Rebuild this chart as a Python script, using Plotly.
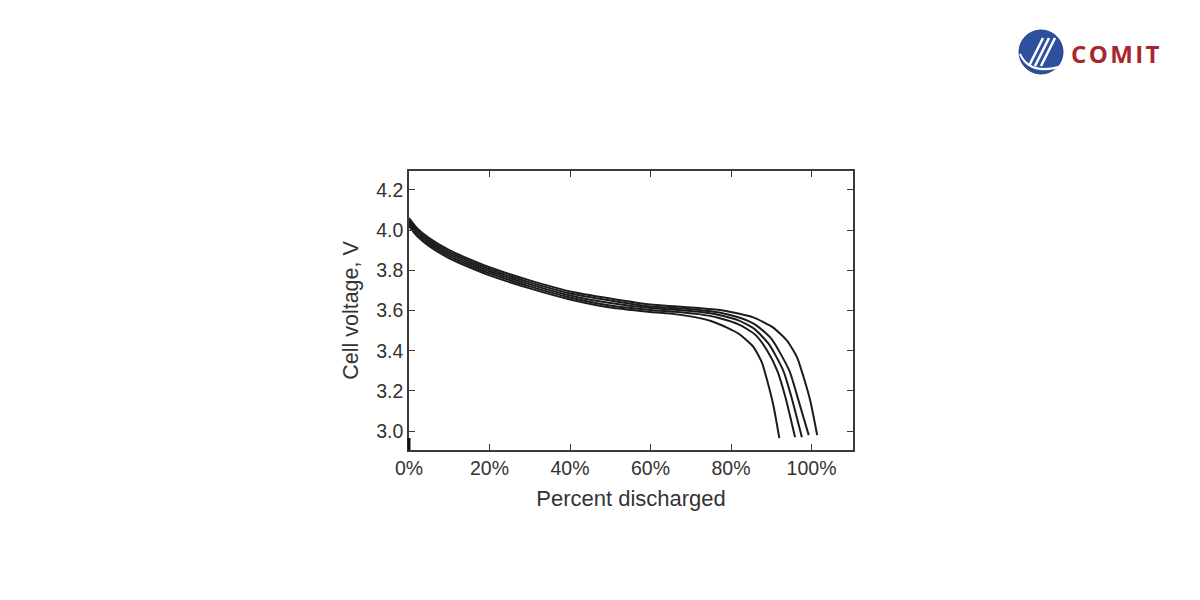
import plotly.graph_objects as go

# Percent discharged (x) and cell voltage (V) for the five discharge curves
c1_x = [0, 2, 5, 10, 15, 20, 30, 40, 50, 60, 66, 71, 75, 79, 82, 85.5, 87.7, 89, 90.5, 92]
c1_v = [4.02, 3.97, 3.92, 3.86, 3.815, 3.775, 3.71, 3.655, 3.615, 3.593, 3.582, 3.567, 3.548, 3.515, 3.483, 3.42, 3.34, 3.25, 3.13, 2.965]

c2_x = [0, 2, 5, 10, 15, 20, 30, 40, 50, 60, 66, 72, 77, 82, 86, 89, 91.5, 93.5, 95.9]
c2_v = [4.03, 3.98, 3.93, 3.87, 3.825, 3.785, 3.72, 3.665, 3.625, 3.603, 3.594, 3.582, 3.563, 3.53, 3.48, 3.40, 3.30, 3.17, 2.97]

c3_x = [0, 2, 5, 10, 15, 20, 30, 40, 50, 60, 66, 72, 77, 82, 86, 89.5, 93, 95, 97.6]
c3_v = [4.04, 3.99, 3.94, 3.88, 3.835, 3.795, 3.73, 3.675, 3.637, 3.612, 3.604, 3.594, 3.578, 3.55, 3.505, 3.43, 3.30, 3.17, 2.97]

c4_x = [0, 2, 5, 10, 15, 20, 30, 40, 50, 60, 66, 72, 77, 82, 86, 90, 94.5, 96.8, 99.3]
c4_v = [4.05, 4.0, 3.95, 3.89, 3.845, 3.805, 3.74, 3.685, 3.65, 3.62, 3.612, 3.603, 3.59, 3.565, 3.53, 3.46, 3.30, 3.15, 2.98]

c5_x = [0, 2, 5, 10, 15, 20, 30, 40, 50, 60, 66, 72, 78, 85.5, 90.4, 93.9, 96.4, 98, 99.7, 101.4]
c5_v = [4.06, 4.01, 3.96, 3.90, 3.855, 3.815, 3.75, 3.695, 3.66, 3.63, 3.621, 3.612, 3.60, 3.566, 3.516, 3.45, 3.367, 3.27, 3.15, 2.98]

curves = [(c1_x, c1_v), (c2_x, c2_v), (c3_x, c3_v), (c4_x, c4_v), (c5_x, c5_v)]

x_ticks = [0, 20, 40, 60, 80, 100]
x_labels = ["0%", "20%", "40%", "60%", "80%", "100%"]
y_ticks = [3.0, 3.2, 3.4, 3.6, 3.8, 4.0, 4.2]
y_labels = ["3.0", "3.2", "3.4", "3.6", "3.8", "4.0", "4.2"]

fig = go.Figure()
for xs, vs in curves:
    fig.add_trace(go.Scatter(x=xs, y=vs, mode="lines",
                             line=dict(color="#1c1c1c", width=2, shape="spline", smoothing=0.6),
                             showlegend=False, hoverinfo="skip"))

axis_common = dict(showgrid=False, zeroline=False, showline=True, linecolor="#3a3a3a",
                   linewidth=1.5, mirror="allticks", ticks="inside", ticklen=6,
                   tickcolor="#3a3a3a", tickwidth=1.3,
                   tickfont=dict(family="Liberation Sans, Arial", size=19.5, color="#333333"))

fig.update_xaxes(range=[0, 110.3], tickvals=x_ticks, ticktext=x_labels,
                 title=dict(text="Percent discharged", standoff=12,
                            font=dict(family="Liberation Sans, Arial", size=22, color="#333333")),
                 **axis_common)
fig.update_yaxes(range=[2.906, 4.294], tickvals=y_ticks, ticktext=y_labels,
                 title=dict(text="Cell voltage, V", standoff=12,
                            font=dict(family="Liberation Sans, Arial", size=21.5, color="#333333")),
                 **axis_common)

# Logo (COMIT) in top-right corner, positioned in paper coordinates
def px_x(p):
    return (p - 409) / 444.0

def px_y(p):
    return (450 - p) / 279.0

shapes = [
    dict(type="circle", xref="paper", yref="paper",
         x0=px_x(1019), x1=px_x(1063), y0=px_y(74), y1=px_y(30),
         fillcolor="#2d4f9e", line=dict(color="#24408a", width=1)),
    dict(type="line", xref="paper", yref="paper", x0=px_x(1029), y0=px_y(66), x1=px_x(1043), y1=px_y(38),
         line=dict(color="white", width=2.5)),
    dict(type="line", xref="paper", yref="paper", x0=px_x(1035), y0=px_y(66), x1=px_x(1049), y1=px_y(38),
         line=dict(color="white", width=2.5)),
    dict(type="line", xref="paper", yref="paper", x0=px_x(1041), y0=px_y(66), x1=px_x(1055), y1=px_y(38),
         line=dict(color="white", width=2.5)),
    dict(type="path", xref="paper", yref="paper",
         path="M {0},{1} Q {2},{3} {4},{5}".format(px_x(1020), px_y(54), px_x(1030), px_y(76), px_x(1062), px_y(66)),
         line=dict(color="white", width=2)),
    # small thick mark at the bottom-left corner of the axis
    dict(type="line", xref="paper", yref="paper", x0=px_x(409), x1=px_x(409), y0=px_y(450), y1=px_y(438),
         line=dict(color="#111111", width=3)),
]

annotations = [
    dict(text="<b>C\u200aO\u200aM\u200aI\u200aT</b>", xref="paper", yref="paper",
         x=px_x(1115), y=px_y(53), showarrow=False, xanchor="center", yanchor="middle",
         font=dict(family="Open Sans, Liberation Sans", size=24, color="#a8262c")),
]

fig.update_layout(width=1200, height=600, margin=dict(l=409, r=347, t=171, b=150),
                  paper_bgcolor="white", plot_bgcolor="white",
                  shapes=shapes, annotations=annotations)

fig.write_html("out.html")
